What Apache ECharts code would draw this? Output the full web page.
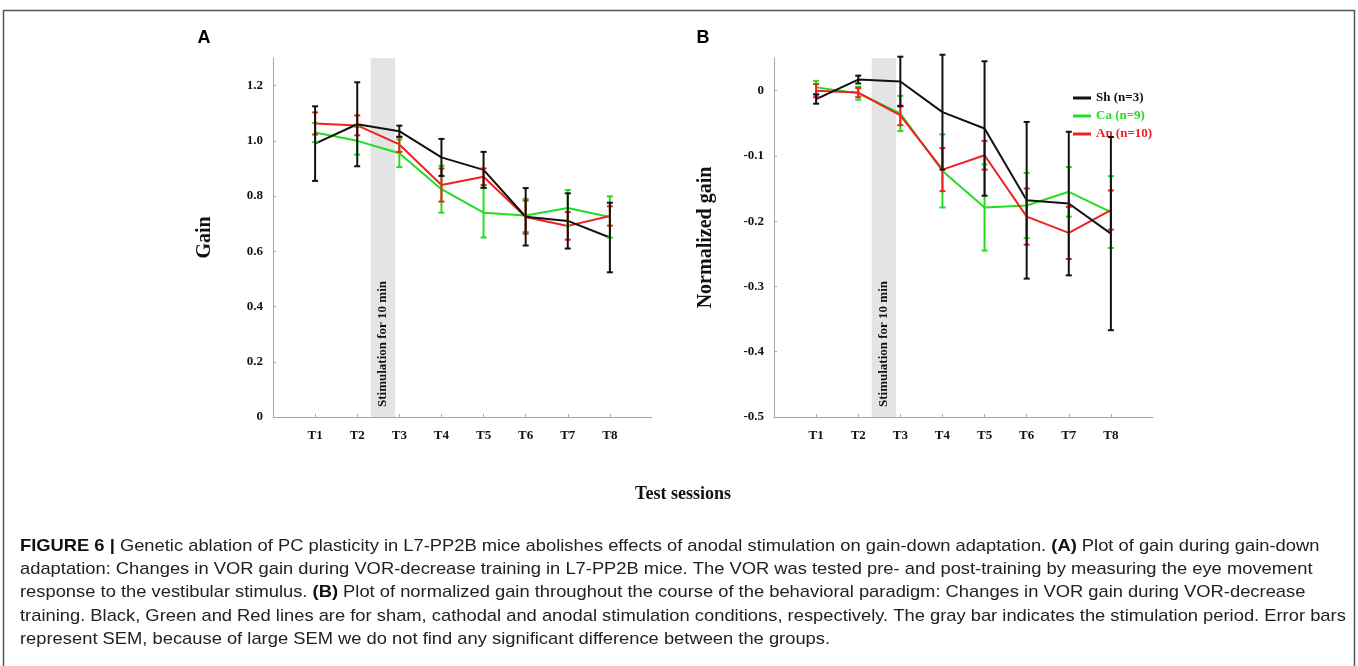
<!DOCTYPE html>
<html>
<head>
<meta charset="utf-8">
<script src="https://cdn.jsdelivr.net/npm/echarts@6/dist/echarts.min.js"></script>
<style>
  html, body { margin: 0; padding: 0; background: #fff; }
  #chart { width: 1358px; height: 666px; }
</style>
</head>
<body>
<div id="chart"></div>
<script>
// sessions T1..T8 sit at x = 1..8 on a 0..9 axis
const sessions = ['T1', 'T2', 'T3', 'T4', 'T5', 'T6', 'T7', 'T8']
const sessionPos = [1, 2, 3, 4, 5, 6, 7, 8]

// panel A: gain (mean, SEM)
const gainSh = [0.99, 1.06, 1.035, 0.94, 0.895, 0.725, 0.71, 0.65]
const gainShErr = [0.135, 0.152, 0.02, 0.067, 0.065, 0.104, 0.1, 0.126]
const gainCa = [1.03, 1.0, 0.955, 0.825, 0.74, 0.73, 0.757, 0.724]
const gainCaErr = [0.035, 0.05, 0.05, 0.085, 0.09, 0.06, 0.065, 0.075]
const gainAn = [1.063, 1.056, 0.987, 0.84, 0.87, 0.724, 0.692, 0.728]
const gainAnErr = [0.04, 0.036, 0.027, 0.06, 0.03, 0.06, 0.05, 0.035]

// panel B: normalized gain (mean, SEM)
const normSh = [-0.013, 0.017, 0.014, -0.033, -0.058, -0.168, -0.173, -0.219]
const normShErr = [0.007, 0.006, 0.038, 0.088, 0.103, 0.12, 0.11, 0.148]
const normCa = [0.005, -0.004, -0.035, -0.123, -0.179, -0.176, -0.155, -0.186]
const normCaErr = [0.01, 0.01, 0.027, 0.056, 0.066, 0.05, 0.038, 0.055]
const normAn = [0.0, -0.003, -0.038, -0.121, -0.099, -0.193, -0.218, -0.183]
const normAnErr = [0.01, 0.007, 0.015, 0.033, 0.022, 0.043, 0.04, 0.03]

// stimulation period (between T2 and T3)
const stimStart = 2.32
const stimEnd = 2.9

const groups = ['Sh (n=3)', 'Ca (n=9)', 'An (n=10)']
const colors = ['#111111', '#22dd22', '#ee2020']

const serif = 'Liberation Serif'
const chart = echarts.init(document.getElementById('chart'))

function lineSeries(name, color, vals, axis) {
  return {
    name, type: 'line', xAxisIndex: axis, yAxisIndex: axis, showSymbol: false, z: 3,
    data: vals.map((v, i) => [sessionPos[i], v]),
    lineStyle: { color, width: 2 }, itemStyle: { color }
  }
}

function errSeries(name, color, vals, errs, axis) {
  return {
    name, type: 'custom', xAxisIndex: axis, yAxisIndex: axis, z: 4,
    itemStyle: { color },
    data: vals.map((v, i) => [sessionPos[i], v, errs[i]]),
    encode: { x: 0, y: 1 },
    renderItem(params, api) {
      const x = api.value(0), m = api.value(1), e = api.value(2)
      const top = api.coord([x, m + e]), bot = api.coord([x, m - e])
      const st = { stroke: color, lineWidth: 2 }
      return {
        type: 'group', children: [
          { type: 'line', shape: { x1: top[0], y1: top[1], x2: bot[0], y2: bot[1] }, style: st },
          { type: 'line', shape: { x1: top[0] - 3, y1: top[1], x2: top[0] + 3, y2: top[1] }, style: st },
          { type: 'line', shape: { x1: bot[0] - 3, y1: bot[1], x2: bot[0] + 3, y2: bot[1] }, style: st }
        ]
      }
    }
  }
}

function bandSeries(axis) {
  return {
    type: 'custom', xAxisIndex: axis, yAxisIndex: axis, z: 1, silent: true,
    data: [[stimStart, stimEnd]],
    renderItem(params, api) {
      const cs = params.coordSys
      const x0 = api.coord([api.value(0), 0])[0], x1 = api.coord([api.value(1), 0])[0]
      return {
        type: 'group', children: [
          { type: 'rect', shape: { x: x0, y: cs.y, width: x1 - x0, height: cs.height }, style: { fill: '#e4e4e4' } },
          {
            type: 'text', x: (x0 + x1) / 2, y: cs.y + cs.height - 10, rotation: Math.PI / 2,
            style: { text: 'Stimulation for 10 min', align: 'left', verticalAlign: 'middle',
              font: 'bold 13px "' + serif + '"', fill: '#111' }
          }
        ]
      }
    }
  }
}

const tickFmt = v => (Math.abs(v) < 1e-9 ? '0' : v.toFixed(1))
const axisCommon = {
  axisLine: { onZero: false, lineStyle: { color: '#a8a8a8', width: 1 } },
  axisTick: { inside: true, length: 3, lineStyle: { color: '#a8a8a8' } },
  splitLine: { show: false },
  axisLabel: { fontFamily: serif, fontWeight: 'bold', fontSize: 13, color: '#111' }
}

function xAxis(grid) {
  return {
    ...axisCommon, type: 'value', gridIndex: grid, min: 0, max: 9, interval: 1,
    axisTick: { ...axisCommon.axisTick, customValues: sessionPos },
    axisLabel: { ...axisCommon.axisLabel, margin: 12, customValues: sessionPos,
      formatter: v => sessions[v - 1] || '' }
  }
}

function yAxis(grid, min, max, name) {
  return {
    ...axisCommon, type: 'value', gridIndex: grid, min, max, interval: 0.2,
    name, nameLocation: 'middle', nameGap: 58,
    nameTextStyle: { fontFamily: serif, fontWeight: 'bold', fontSize: 20, color: '#111' },
    axisLabel: { ...axisCommon.axisLabel, margin: 10, formatter: tickFmt, showMaxLabel: false }
  }
}

// caption lines as in the figure
const caption = [
  '{b|FIGURE 6 |} Genetic ablation of PC plasticity in L7-PP2B mice abolishes effects of anodal stimulation on gain-down adaptation. {b|(A)} Plot of gain during gain-down',
  'adaptation: Changes in VOR gain during VOR-decrease training in L7-PP2B mice. The VOR was tested pre- and post-training by measuring the eye movement',
  'response to the vestibular stimulus. {b|(B)} Plot of normalized gain throughout the course of the behavioral paradigm: Changes in VOR gain during VOR-decrease',
  'training. Black, Green and Red lines are for sham, cathodal and anodal stimulation conditions, respectively. The gray bar indicates the stimulation period. Error bars',
  'represent SEM, because of large SEM we do not find any significant difference between the groups.'
]
const capSize = 17
const ctx = document.createElement('canvas').getContext('2d')
function measure(str) {
  let w = 0
  str.split(/(\{b\|[^}]*\})/).forEach(seg => {
    const bold = seg.startsWith('{b|')
    ctx.font = (bold ? 'bold ' : '') + capSize + 'px "Liberation Sans"'
    w += ctx.measureText(bold ? seg.slice(3, -1) : seg).width
  })
  return w
}
// line 1 and line 4 both reach close to the right edge in the figure
const capScale = (1308 / measure(caption[0]) + 1317 / measure(caption[3])) / 2

const graphics = [
  { type: 'rect', shape: { x: 3.5, y: 10.5, width: 1351, height: 700 }, style: { fill: null, stroke: '#555', lineWidth: 1.5 } },
  { type: 'text', x: 204, y: 38, style: { text: 'A', font: 'bold 18px "Liberation Sans"', fill: '#000', align: 'center', verticalAlign: 'middle' } },
  { type: 'text', x: 703, y: 38, style: { text: 'B', font: 'bold 18px "Liberation Sans"', fill: '#000', align: 'center', verticalAlign: 'middle' } },
  { type: 'text', x: 683, y: 494, style: { text: 'Test sessions', font: 'bold 18px "' + serif + '"', fill: '#111', align: 'center', verticalAlign: 'middle' } }
]
caption.forEach((t, i) => {
  graphics.push({
    type: 'text', x: 20, y: 546 + i * 23.3, scaleX: capScale,
    style: {
      text: t, fontFamily: 'Liberation Sans', fontSize: capSize, fill: '#222',
      align: 'left', verticalAlign: 'middle',
      rich: { b: { fontFamily: 'Liberation Sans', fontSize: capSize, fontWeight: 'bold', fill: '#111' } }
    }
  })
})

const series = [bandSeries(0), bandSeries(1)]
const gainVals = [gainSh, gainCa, gainAn], gainErrs = [gainShErr, gainCaErr, gainAnErr]
const normVals = [normSh, normCa, normAn], normErrs = [normShErr, normCaErr, normAnErr]
// draw green, red, then black on top
;[1, 2, 0].forEach(k => {
  series.push(lineSeries(groups[k], colors[k], gainVals[k], 0))
  series.push(errSeries(groups[k], colors[k], gainVals[k], gainErrs[k], 0))
  series.push(lineSeries(groups[k], colors[k], normVals[k], 1))
  series.push(errSeries(groups[k], colors[k], normVals[k], normErrs[k], 1))
})

const yB = yAxis(1, -0.5, 0.05, 'Normalized gain')
yB.interval = 0.1

chart.setOption({
  animation: false,
  grid: [
    { left: 273, top: 58, width: 379, height: 359 },
    { left: 774, top: 58, width: 379, height: 359 }
  ],
  xAxis: [xAxis(0), xAxis(1)],
  yAxis: [yAxis(0, 0, 1.3, 'Gain'), yB],
  legend: {
    orient: 'vertical', left: 1068, top: 86, itemGap: 4, itemWidth: 18, itemHeight: 3, icon: 'rect',
    textStyle: { fontFamily: serif, fontWeight: 'bold', fontSize: 13, lineHeight: 14 },
    data: groups.map((g, k) => ({ name: g, textStyle: { color: colors[k] } }))
  },
  graphic: graphics,
  series
})
</script>
</body>
</html>
